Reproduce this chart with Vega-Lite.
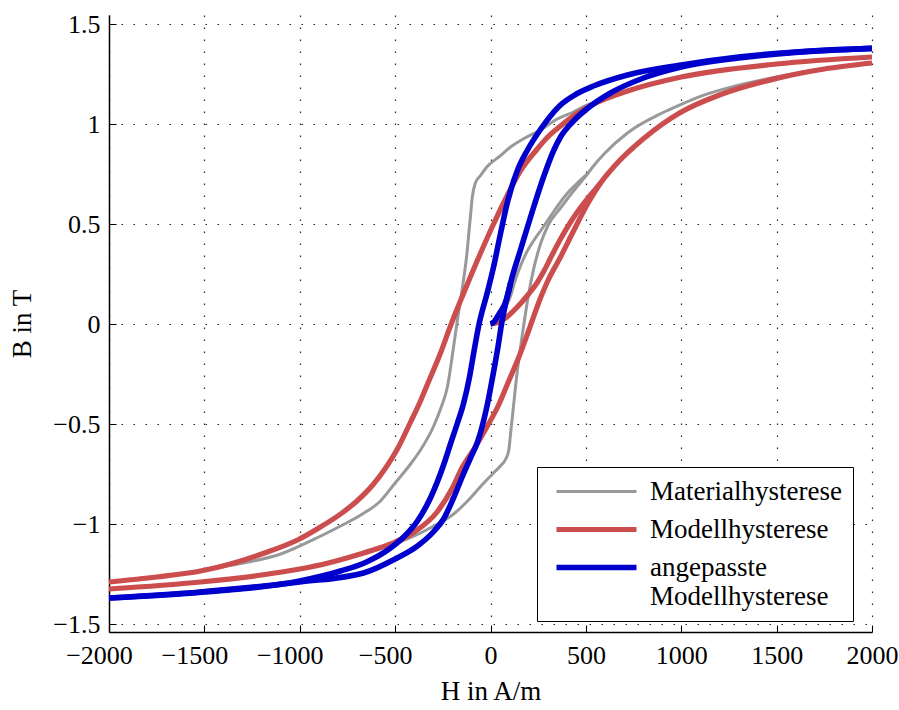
{
"$schema": "https://vega.github.io/schema/vega-lite/v6.json",
"width": 763, "height": 617,
"autosize": {"type": "none"},
"padding": {"left": 109, "top": 15, "right": 27, "bottom": 78},
"background": "white",
"config": {
  "view": {"stroke": null},
  "font": "Liberation Serif",
  "axis": {"domainColor": "black", "domainWidth": 1.5, "tickColor": "black", "tickWidth": 1, "tickSize": -7,
    "labelFont": "Liberation Serif", "labelFontSize": 26, "labelColor": "black",
    "titleFont": "Liberation Serif", "titleFontSize": 27, "titleFontWeight": "normal", "titleColor": "black",
    "grid": true, "gridColor": "#222222", "gridDash": [1.5, 10.5], "gridWidth": 1.2, "gridOpacity": 1,
    "labelFlush": false, "labelOverlap": false}
},
"data": {"values": [
{"s":"Materialhysterese","b":"ab","H":-2000,"B":-1.29},
{"s":"Materialhysterese","b":"ab","H":-1600,"B":-1.248},
{"s":"Materialhysterese","b":"ab","H":-1363,"B":-1.207},
{"s":"Materialhysterese","b":"ab","H":-1100,"B":-1.15},
{"s":"Materialhysterese","b":"ab","H":-900,"B":-1.065},
{"s":"Materialhysterese","b":"ab","H":-786,"B":-1.01},
{"s":"Materialhysterese","b":"ab","H":-680,"B":-0.955},
{"s":"Materialhysterese","b":"ab","H":-577,"B":-0.885},
{"s":"Materialhysterese","b":"ab","H":-500,"B":-0.795},
{"s":"Materialhysterese","b":"ab","H":-419,"B":-0.7},
{"s":"Materialhysterese","b":"ab","H":-367,"B":-0.63},
{"s":"Materialhysterese","b":"ab","H":-300,"B":-0.515},
{"s":"Materialhysterese","b":"ab","H":-260,"B":-0.42},
{"s":"Materialhysterese","b":"ab","H":-225,"B":-0.31},
{"s":"Materialhysterese","b":"ab","H":-199,"B":-0.15},
{"s":"Materialhysterese","b":"ab","H":-175,"B":0.01},
{"s":"Materialhysterese","b":"ab","H":-157,"B":0.12},
{"s":"Materialhysterese","b":"ab","H":-140,"B":0.23},
{"s":"Materialhysterese","b":"ab","H":-125,"B":0.34},
{"s":"Materialhysterese","b":"ab","H":-114,"B":0.45},
{"s":"Materialhysterese","b":"ab","H":-104,"B":0.55},
{"s":"Materialhysterese","b":"ab","H":-96,"B":0.63},
{"s":"Materialhysterese","b":"ab","H":-80,"B":0.703},
{"s":"Materialhysterese","b":"ab","H":-50,"B":0.745},
{"s":"Materialhysterese","b":"ab","H":-17,"B":0.787},
{"s":"Materialhysterese","b":"ab","H":50,"B":0.84},
{"s":"Materialhysterese","b":"ab","H":105,"B":0.885},
{"s":"Materialhysterese","b":"ab","H":180,"B":0.93},
{"s":"Materialhysterese","b":"ab","H":262,"B":0.97},
{"s":"Materialhysterese","b":"ab","H":350,"B":1.025},
{"s":"Materialhysterese","b":"ab","H":435,"B":1.06},
{"s":"Materialhysterese","b":"ab","H":508,"B":1.095},
{"s":"Materialhysterese","b":"ab","H":600,"B":1.125},
{"s":"Materialhysterese","b":"ab","H":700,"B":1.158},
{"s":"Materialhysterese","b":"ab","H":1000,"B":1.232},
{"s":"Materialhysterese","b":"ab","H":1500,"B":1.3},
{"s":"Materialhysterese","b":"ab","H":2000,"B":1.335},
{"s":"Materialhysterese","b":"auf","H":-2000,"B":-1.325},
{"s":"Materialhysterese","b":"auf","H":-1500,"B":-1.288},
{"s":"Materialhysterese","b":"auf","H":-1000,"B":-1.225},
{"s":"Materialhysterese","b":"auf","H":-700,"B":-1.155},
{"s":"Materialhysterese","b":"auf","H":-488,"B":-1.095},
{"s":"Materialhysterese","b":"auf","H":-400,"B":-1.06},
{"s":"Materialhysterese","b":"auf","H":-278,"B":-1.0},
{"s":"Materialhysterese","b":"auf","H":-200,"B":-0.955},
{"s":"Materialhysterese","b":"auf","H":-105,"B":-0.87},
{"s":"Materialhysterese","b":"auf","H":-40,"B":-0.8},
{"s":"Materialhysterese","b":"auf","H":16,"B":-0.745},
{"s":"Materialhysterese","b":"auf","H":52,"B":-0.71},
{"s":"Materialhysterese","b":"auf","H":80,"B":-0.675},
{"s":"Materialhysterese","b":"auf","H":96,"B":-0.63},
{"s":"Materialhysterese","b":"auf","H":105,"B":-0.55},
{"s":"Materialhysterese","b":"auf","H":114,"B":-0.47},
{"s":"Materialhysterese","b":"auf","H":125,"B":-0.37},
{"s":"Materialhysterese","b":"auf","H":140,"B":-0.24},
{"s":"Materialhysterese","b":"auf","H":157,"B":-0.12},
{"s":"Materialhysterese","b":"auf","H":175,"B":0.0},
{"s":"Materialhysterese","b":"auf","H":200,"B":0.15},
{"s":"Materialhysterese","b":"auf","H":225,"B":0.27},
{"s":"Materialhysterese","b":"auf","H":262,"B":0.4},
{"s":"Materialhysterese","b":"auf","H":300,"B":0.49},
{"s":"Materialhysterese","b":"auf","H":367,"B":0.58},
{"s":"Materialhysterese","b":"auf","H":435,"B":0.665},
{"s":"Materialhysterese","b":"auf","H":508,"B":0.75},
{"s":"Materialhysterese","b":"auf","H":540,"B":0.79},
{"s":"Materialhysterese","b":"auf","H":600,"B":0.855},
{"s":"Materialhysterese","b":"auf","H":718,"B":0.955},
{"s":"Materialhysterese","b":"auf","H":900,"B":1.055},
{"s":"Materialhysterese","b":"auf","H":1000,"B":1.098},
{"s":"Materialhysterese","b":"auf","H":1100,"B":1.138},
{"s":"Materialhysterese","b":"auf","H":1274,"B":1.188},
{"s":"Materialhysterese","b":"auf","H":1500,"B":1.235},
{"s":"Materialhysterese","b":"auf","H":1750,"B":1.277},
{"s":"Materialhysterese","b":"auf","H":2000,"B":1.305},
{"s":"Materialhysterese","b":"neu","H":0,"B":0},
{"s":"Materialhysterese","b":"neu","H":30,"B":0.015},
{"s":"Materialhysterese","b":"neu","H":60,"B":0.05},
{"s":"Materialhysterese","b":"neu","H":85,"B":0.095},
{"s":"Materialhysterese","b":"neu","H":105,"B":0.14},
{"s":"Materialhysterese","b":"neu","H":130,"B":0.22},
{"s":"Materialhysterese","b":"neu","H":157,"B":0.29},
{"s":"Materialhysterese","b":"neu","H":190,"B":0.36},
{"s":"Materialhysterese","b":"neu","H":225,"B":0.415},
{"s":"Materialhysterese","b":"neu","H":262,"B":0.465},
{"s":"Materialhysterese","b":"neu","H":330,"B":0.56},
{"s":"Materialhysterese","b":"neu","H":367,"B":0.61},
{"s":"Materialhysterese","b":"neu","H":404,"B":0.655},
{"s":"Materialhysterese","b":"neu","H":450,"B":0.7},
{"s":"Materialhysterese","b":"neu","H":508,"B":0.75},
{"s":"Modellhysterese","b":"ab","H":-2000,"B":-1.29},
{"s":"Modellhysterese","b":"ab","H":-1750,"B":-1.265},
{"s":"Modellhysterese","b":"ab","H":-1520,"B":-1.235},
{"s":"Modellhysterese","b":"ab","H":-1363,"B":-1.2},
{"s":"Modellhysterese","b":"ab","H":-1200,"B":-1.15},
{"s":"Modellhysterese","b":"ab","H":-1012,"B":-1.08},
{"s":"Modellhysterese","b":"ab","H":-900,"B":-1.02},
{"s":"Modellhysterese","b":"ab","H":-786,"B":-0.95},
{"s":"Modellhysterese","b":"ab","H":-700,"B":-0.885},
{"s":"Modellhysterese","b":"ab","H":-613,"B":-0.8},
{"s":"Modellhysterese","b":"ab","H":-550,"B":-0.72},
{"s":"Modellhysterese","b":"ab","H":-488,"B":-0.625},
{"s":"Modellhysterese","b":"ab","H":-419,"B":-0.49},
{"s":"Modellhysterese","b":"ab","H":-367,"B":-0.385},
{"s":"Modellhysterese","b":"ab","H":-330,"B":-0.3},
{"s":"Modellhysterese","b":"ab","H":-262,"B":-0.145},
{"s":"Modellhysterese","b":"ab","H":-210,"B":-0.01},
{"s":"Modellhysterese","b":"ab","H":-160,"B":0.11},
{"s":"Modellhysterese","b":"ab","H":-121,"B":0.2},
{"s":"Modellhysterese","b":"ab","H":-52,"B":0.355},
{"s":"Modellhysterese","b":"ab","H":16,"B":0.5},
{"s":"Modellhysterese","b":"ab","H":89,"B":0.645},
{"s":"Modellhysterese","b":"ab","H":157,"B":0.765},
{"s":"Modellhysterese","b":"ab","H":245,"B":0.875},
{"s":"Modellhysterese","b":"ab","H":300,"B":0.935},
{"s":"Modellhysterese","b":"ab","H":367,"B":0.99},
{"s":"Modellhysterese","b":"ab","H":450,"B":1.05},
{"s":"Modellhysterese","b":"ab","H":540,"B":1.1},
{"s":"Modellhysterese","b":"ab","H":718,"B":1.165},
{"s":"Modellhysterese","b":"ab","H":1000,"B":1.235},
{"s":"Modellhysterese","b":"ab","H":1500,"B":1.3},
{"s":"Modellhysterese","b":"ab","H":2000,"B":1.335},
{"s":"Modellhysterese","b":"auf","H":-2000,"B":-1.325},
{"s":"Modellhysterese","b":"auf","H":-1520,"B":-1.29},
{"s":"Modellhysterese","b":"auf","H":-1200,"B":-1.255},
{"s":"Modellhysterese","b":"auf","H":-1000,"B":-1.225},
{"s":"Modellhysterese","b":"auf","H":-850,"B":-1.195},
{"s":"Modellhysterese","b":"auf","H":-700,"B":-1.155},
{"s":"Modellhysterese","b":"auf","H":-600,"B":-1.125},
{"s":"Modellhysterese","b":"auf","H":-500,"B":-1.09},
{"s":"Modellhysterese","b":"auf","H":-400,"B":-1.04},
{"s":"Modellhysterese","b":"auf","H":-280,"B":-0.94},
{"s":"Modellhysterese","b":"auf","H":-200,"B":-0.82},
{"s":"Modellhysterese","b":"auf","H":-150,"B":-0.72},
{"s":"Modellhysterese","b":"auf","H":-80,"B":-0.615},
{"s":"Modellhysterese","b":"auf","H":-16,"B":-0.51},
{"s":"Modellhysterese","b":"auf","H":40,"B":-0.41},
{"s":"Modellhysterese","b":"auf","H":89,"B":-0.3},
{"s":"Modellhysterese","b":"auf","H":157,"B":-0.145},
{"s":"Modellhysterese","b":"auf","H":205,"B":-0.02},
{"s":"Modellhysterese","b":"auf","H":262,"B":0.13},
{"s":"Modellhysterese","b":"auf","H":300,"B":0.215},
{"s":"Modellhysterese","b":"auf","H":367,"B":0.335},
{"s":"Modellhysterese","b":"auf","H":430,"B":0.455},
{"s":"Modellhysterese","b":"auf","H":500,"B":0.585},
{"s":"Modellhysterese","b":"auf","H":540,"B":0.65},
{"s":"Modellhysterese","b":"auf","H":577,"B":0.705},
{"s":"Modellhysterese","b":"auf","H":650,"B":0.79},
{"s":"Modellhysterese","b":"auf","H":800,"B":0.925},
{"s":"Modellhysterese","b":"auf","H":1000,"B":1.06},
{"s":"Modellhysterese","b":"auf","H":1200,"B":1.145},
{"s":"Modellhysterese","b":"auf","H":1500,"B":1.228},
{"s":"Modellhysterese","b":"auf","H":1750,"B":1.275},
{"s":"Modellhysterese","b":"auf","H":2000,"B":1.305},
{"s":"Modellhysterese","b":"neu","H":0,"B":0},
{"s":"Modellhysterese","b":"neu","H":40,"B":0.008},
{"s":"Modellhysterese","b":"neu","H":80,"B":0.03},
{"s":"Modellhysterese","b":"neu","H":120,"B":0.065},
{"s":"Modellhysterese","b":"neu","H":160,"B":0.105},
{"s":"Modellhysterese","b":"neu","H":200,"B":0.15},
{"s":"Modellhysterese","b":"neu","H":240,"B":0.2},
{"s":"Modellhysterese","b":"neu","H":280,"B":0.265},
{"s":"Modellhysterese","b":"neu","H":320,"B":0.34},
{"s":"Modellhysterese","b":"neu","H":367,"B":0.425},
{"s":"Modellhysterese","b":"neu","H":420,"B":0.51},
{"s":"Modellhysterese","b":"neu","H":470,"B":0.58},
{"s":"Modellhysterese","b":"neu","H":520,"B":0.64},
{"s":"Modellhysterese","b":"neu","H":560,"B":0.685},
{"s":"Modellhysterese","b":"neu","H":577,"B":0.705},
{"s":"angepasste Modellhysterese","b":"ab","H":-2000,"B":-1.37},
{"s":"angepasste Modellhysterese","b":"ab","H":-1500,"B":-1.34},
{"s":"angepasste Modellhysterese","b":"ab","H":-1000,"B":-1.285},
{"s":"angepasste Modellhysterese","b":"ab","H":-786,"B":-1.235},
{"s":"angepasste Modellhysterese","b":"ab","H":-650,"B":-1.19},
{"s":"angepasste Modellhysterese","b":"ab","H":-524,"B":-1.12},
{"s":"angepasste Modellhysterese","b":"ab","H":-450,"B":-1.06},
{"s":"angepasste Modellhysterese","b":"ab","H":-383,"B":-0.985},
{"s":"angepasste Modellhysterese","b":"ab","H":-315,"B":-0.87},
{"s":"angepasste Modellhysterese","b":"ab","H":-246,"B":-0.705},
{"s":"angepasste Modellhysterese","b":"ab","H":-210,"B":-0.6},
{"s":"angepasste Modellhysterese","b":"ab","H":-175,"B":-0.5},
{"s":"angepasste Modellhysterese","b":"ab","H":-142,"B":-0.4},
{"s":"angepasste Modellhysterese","b":"ab","H":-110,"B":-0.265},
{"s":"angepasste Modellhysterese","b":"ab","H":-89,"B":-0.15},
{"s":"angepasste Modellhysterese","b":"ab","H":-60,"B":0.0},
{"s":"angepasste Modellhysterese","b":"ab","H":-16,"B":0.16},
{"s":"angepasste Modellhysterese","b":"ab","H":16,"B":0.285},
{"s":"angepasste Modellhysterese","b":"ab","H":52,"B":0.45},
{"s":"angepasste Modellhysterese","b":"ab","H":89,"B":0.61},
{"s":"angepasste Modellhysterese","b":"ab","H":140,"B":0.765},
{"s":"angepasste Modellhysterese","b":"ab","H":194,"B":0.87},
{"s":"angepasste Modellhysterese","b":"ab","H":260,"B":0.97},
{"s":"angepasste Modellhysterese","b":"ab","H":367,"B":1.095},
{"s":"angepasste Modellhysterese","b":"ab","H":450,"B":1.15},
{"s":"angepasste Modellhysterese","b":"ab","H":540,"B":1.19},
{"s":"angepasste Modellhysterese","b":"ab","H":718,"B":1.245},
{"s":"angepasste Modellhysterese","b":"ab","H":1000,"B":1.295},
{"s":"angepasste Modellhysterese","b":"ab","H":1300,"B":1.335},
{"s":"angepasste Modellhysterese","b":"ab","H":1600,"B":1.36},
{"s":"angepasste Modellhysterese","b":"ab","H":2000,"B":1.378},
{"s":"angepasste Modellhysterese","b":"auf","H":-2000,"B":-1.37},
{"s":"angepasste Modellhysterese","b":"auf","H":-1520,"B":-1.34},
{"s":"angepasste Modellhysterese","b":"auf","H":-1000,"B":-1.29},
{"s":"angepasste Modellhysterese","b":"auf","H":-666,"B":-1.245},
{"s":"angepasste Modellhysterese","b":"auf","H":-500,"B":-1.175},
{"s":"angepasste Modellhysterese","b":"auf","H":-383,"B":-1.11},
{"s":"angepasste Modellhysterese","b":"auf","H":-300,"B":-1.04},
{"s":"angepasste Modellhysterese","b":"auf","H":-246,"B":-0.975},
{"s":"angepasste Modellhysterese","b":"auf","H":-194,"B":-0.87},
{"s":"angepasste Modellhysterese","b":"auf","H":-142,"B":-0.75},
{"s":"angepasste Modellhysterese","b":"auf","H":-105,"B":-0.67},
{"s":"angepasste Modellhysterese","b":"auf","H":-68,"B":-0.59},
{"s":"angepasste Modellhysterese","b":"auf","H":-16,"B":-0.4},
{"s":"angepasste Modellhysterese","b":"auf","H":16,"B":-0.24},
{"s":"angepasste Modellhysterese","b":"auf","H":40,"B":-0.11},
{"s":"angepasste Modellhysterese","b":"auf","H":58,"B":0.0},
{"s":"angepasste Modellhysterese","b":"auf","H":80,"B":0.105},
{"s":"angepasste Modellhysterese","b":"auf","H":105,"B":0.205},
{"s":"angepasste Modellhysterese","b":"auf","H":157,"B":0.37},
{"s":"angepasste Modellhysterese","b":"auf","H":210,"B":0.535},
{"s":"angepasste Modellhysterese","b":"auf","H":278,"B":0.735},
{"s":"angepasste Modellhysterese","b":"auf","H":330,"B":0.865},
{"s":"angepasste Modellhysterese","b":"auf","H":367,"B":0.935},
{"s":"angepasste Modellhysterese","b":"auf","H":430,"B":1.01},
{"s":"angepasste Modellhysterese","b":"auf","H":498,"B":1.07},
{"s":"angepasste Modellhysterese","b":"auf","H":629,"B":1.155},
{"s":"angepasste Modellhysterese","b":"auf","H":802,"B":1.23},
{"s":"angepasste Modellhysterese","b":"auf","H":1000,"B":1.285},
{"s":"angepasste Modellhysterese","b":"auf","H":1300,"B":1.33},
{"s":"angepasste Modellhysterese","b":"auf","H":1600,"B":1.358},
{"s":"angepasste Modellhysterese","b":"auf","H":2000,"B":1.378},
{"s":"angepasste Modellhysterese","b":"neu","H":0,"B":0},
{"s":"angepasste Modellhysterese","b":"neu","H":20,"B":0.012},
{"s":"angepasste Modellhysterese","b":"neu","H":35,"B":0.035},
{"s":"angepasste Modellhysterese","b":"neu","H":55,"B":0.065},
{"s":"angepasste Modellhysterese","b":"neu","H":75,"B":0.1},
{"s":"angepasste Modellhysterese","b":"neu","H":96,"B":0.165},
{"s":"angepasste Modellhysterese","b":"neu","H":105,"B":0.205}
]},
"encoding": {
  "x": {"field": "H", "type": "quantitative",
    "scale": {"domain": [-2000, 2000], "nice": false, "zero": false},
    "axis": {"values": [-2000, -1500, -1000, -500, 0, 500, 1000, 1500, 2000], "format": "d", "title": "H in A/m", "labelPadding": 17, "titlePadding": 10,
      "labelOffset": {"condition": {"test": "datum.value < 0", "value": -10}, "value": 0}}},
  "y": {"field": "B", "type": "quantitative",
    "scale": {"domain": [-1.54, 1.545], "nice": false, "zero": false},
    "axis": {"values": [-1.5, -1, -0.5, 0, 0.5, 1, 1.5], "format": "~g", "title": "B in T", "labelPadding": 16, "titlePadding": 16}},
  "color": {"field": "s", "type": "nominal",
    "scale": {"domain": ["Materialhysterese", "Modellhysterese", "angepasste Modellhysterese"], "range": ["#999999", "#cc4d4d", "#0000cc"]},
    "legend": {"title": null, "orient": "none", "legendX": 428, "legendY": 452, "symbolType": "M-4,0L4,0", "symbolSize": 400,
      "labelFontSize": 27, "labelFont": "Liberation Serif", "labelColor": "black", "labelOffset": 40, "rowPadding": 10, "padding": 11, "symbolOffset": 35,
      "strokeColor": "black", "fillColor": "white", "labelLimit": 0,
      "labelExpr": "datum.label == 'angepasste Modellhysterese' ? ['angepasste', 'Modellhysterese'] : datum.label",
      "encode": {"symbols": {"update": {"strokeWidth": {"signal": "datum.value == 'Materialhysterese' ? 3 : (datum.value == 'Modellhysterese' ? 5.2 : 5.6)"}}}}}},
  "detail": {"field": "b"},
  "order": {"field": "H", "type": "quantitative"}
},
"layer": [
  {"transform": [{"filter": "datum.s == 'Materialhysterese'"}], "mark": {"type": "line", "interpolate": "monotone", "strokeJoin": "round", "strokeWidth": 3}},
  {"transform": [{"filter": "datum.s == 'Modellhysterese'"}], "mark": {"type": "line", "interpolate": "monotone", "strokeJoin": "round", "strokeWidth": 5.2}},
  {"transform": [{"filter": "datum.s == 'angepasste Modellhysterese'"}], "mark": {"type": "line", "interpolate": "monotone", "strokeJoin": "round", "strokeWidth": 5.6}}
]
}
